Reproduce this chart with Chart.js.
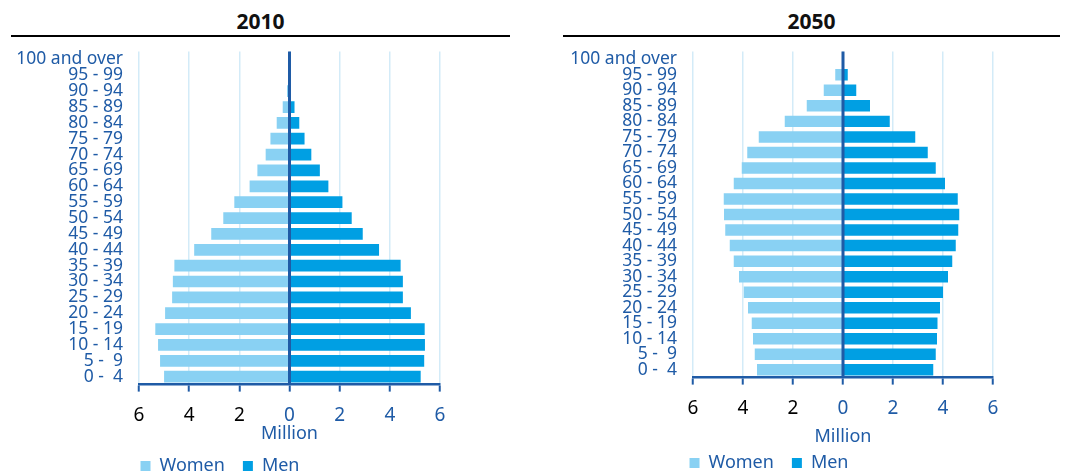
<!DOCTYPE html>
<html>
<head>
<meta charset="utf-8">
<script src="https://cdn.jsdelivr.net/npm/chart.js@4/dist/chart.umd.min.js"></script>
<style>
  body { margin: 0; width: 1075px; height: 475px; background: #fff; position: relative; overflow: hidden; font-family: "Noto Sans", sans-serif; }
  .titulo { position: absolute; top: 9px; height: 26px; border-bottom: 2.5px solid #000; text-align: center; font-weight: bold; font-size: 21px; line-height: 24px; color: #111; }
  .caja { position: absolute; top: 25px; }
</style>
</head>
<body>
<div class="titulo" style="left:11px;width:499px">2010</div>
<div class="titulo" style="left:563px;width:497px">2050</div>
<div class="caja" style="left:0;width:470px;height:460px"><canvas id="g2010"></canvas></div>
<div class="caja" style="left:545px;width:530px;height:457px"><canvas id="g2050"></canvas></div>
<script>
const grupos = ['100 and over', '95 - 99', '90 - 94', '85 - 89', '80 - 84', '75 - 79', '70 - 74',
  '65 - 69', '60 - 64', '55 - 59', '50 - 54', '45 - 49', '40 - 44', '35 - 39', '30 - 34',
  '25 - 29', '20 - 24', '15 - 19', '10 - 14', '5 -  9', '0 -  4'];

// millones de personas, de 100+ hacia 0-4
const mujeres2010 = [0, 0.02, 0.1, 0.27, 0.51, 0.76, 0.95, 1.28, 1.59, 2.2, 2.64, 3.12,
  3.8, 4.59, 4.65, 4.68, 4.96, 5.35, 5.24, 5.16, 5.0];
const hombres2010 = [0, 0.01, 0.05, 0.2, 0.39, 0.6, 0.87, 1.21, 1.55, 2.11, 2.48, 2.92,
  3.57, 4.43, 4.52, 4.52, 4.84, 5.39, 5.4, 5.37, 5.23];
const mujeres2050 = [0.02, 0.31, 0.77, 1.45, 2.33, 3.37, 3.83, 4.05, 4.37, 4.77, 4.76, 4.71,
  4.53, 4.37, 4.16, 3.97, 3.8, 3.65, 3.6, 3.53, 3.44];
const hombres2050 = [0.01, 0.19, 0.53, 1.08, 1.87, 2.89, 3.39, 3.71, 4.08, 4.59, 4.65, 4.61,
  4.51, 4.37, 4.2, 4.0, 3.88, 3.78, 3.76, 3.71, 3.61];

const ticksX = [-6, -4, -2, 0, 2, 4, 6];

const AZUL = '#1f5ba6';
const CLARO = '#89d1f3';
const FUERTE = '#009fe3';
const REJILLA = '#d3ebf8';

// linea del cero por encima de las barras
const lineaCero = {
  id: 'lineaCero',
  afterDatasetsDraw(chart) {
    const x = chart.scales.x.getPixelForValue(0);
    const ctx = chart.ctx;
    ctx.save();
    ctx.strokeStyle = AZUL;
    ctx.lineWidth = 3;
    ctx.beginPath();
    ctx.moveTo(x, chart.chartArea.top);
    ctx.lineTo(x, chart.chartArea.bottom);
    ctx.stroke();
    ctx.restore();
  }
};

function crearPiramide(id, mujeres, hombres, anchoEje, padDer, padTicks, padTitulo) {
  const ctx = document.getElementById(id).getContext('2d');
  return new Chart(ctx, {
    type: 'bar',
    data: {
      labels: grupos,
      datasets: [
        { label: 'Women', data: mujeres.map((v) => -v), backgroundColor: CLARO, barPercentage: 0.74, categoryPercentage: 1 },
        { label: 'Men', data: hombres, backgroundColor: FUERTE, barPercentage: 0.74, categoryPercentage: 1 }
      ]
    },
    options: {
      indexAxis: 'y',
      responsive: true,
      maintainAspectRatio: false,
      animation: false,
      layout: { padding: { top: 10, left: 0, right: padDer, bottom: 0 } },
      plugins: {
        tooltip: { enabled: false },
        legend: {
          position: 'bottom',
          labels: {
            color: AZUL,
            font: { family: 'Noto Sans', size: 18 },
            boxWidth: 10,
            boxHeight: 10,
            padding: 18
          }
        }
      },
      scales: {
        x: {
          stacked: true,
          min: -6,
          max: 6,
          afterBuildTicks: (s) => { s.ticks = ticksX.map((v) => ({ value: v })); },
          ticks: {
            callback: (v) => Math.abs(v),
            color: (c) => (c.tick.value < 0 ? '#000' : AZUL),
            font: { family: 'Noto Sans', size: 19 },
            padding: padTicks,
            maxRotation: 0
          },
          grid: {
            color: REJILLA,
            lineWidth: 1.5,
            tickColor: AZUL,
            tickLength: 7,
            tickWidth: 2
          },
          border: { color: AZUL, width: 2.5 },
          title: {
            display: true,
            text: 'Million',
            color: AZUL,
            font: { family: 'Noto Sans', size: 18 },
            padding: padTitulo
          }
        },
        y: {
          stacked: true,
          afterFit: (s) => { s.width = anchoEje; },
          ticks: {
            autoSkip: false,
            color: AZUL,
            font: { family: 'Noto Sans', size: 17.5 },
            padding: 16
          },
          grid: { display: false, drawTicks: false },
          border: { display: false }
        }
      }
    },
    plugins: [lineaCero]
  });
}

crearPiramide('g2010', mujeres2010, hombres2010, 139, 30, 13, { top: -17, bottom: -6 });
crearPiramide('g2050', mujeres2050, hombres2050, 148, 82, 13, { top: -7, bottom: -12 });
</script>
</body>
</html>
